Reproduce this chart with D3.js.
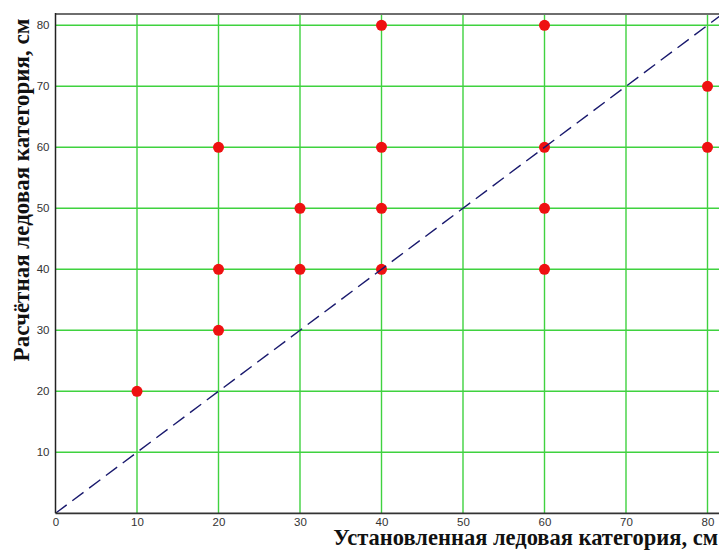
<!DOCTYPE html>
<html><head><meta charset="utf-8">
<script src="https://cdn.jsdelivr.net/npm/d3@7"></script>
<style>
html,body{margin:0;padding:0;background:#fff;overflow:hidden;}
</style></head>
<body>
<svg id="chart" width="719" height="550"></svg>
<script>
const xTicks = [0,10,20,30,40,50,60,70,80];
const yTicks = [10,20,30,40,50,60,70,80];
const xValues = [10,20,20,20,30,30,40,40,40,40,60,60,60,60,80,80];
const yValues = [20,30,40,60,40,50,40,50,60,80,40,50,60,80,60,70];
const lineX = [0,82];
const lineY = [0,82];
const xTitle = "Установленная ледовая категория, см";
const yTitle = "Расчётная ледовая категория, см";

const svg = d3.select("#chart");
const x = d3.scaleLinear().domain([0,82]).range([55.5, 55.5+82*8.15]);
const y = d3.scaleLinear().domain([0,81.85]).range([513.3, 513.3-81.85*6.1]);
const x0 = x(0), x1 = 730, y0 = y(0), y1 = y(81.85);

svg.append("defs").append("clipPath").attr("id","clip")
  .append("rect").attr("x",x0).attr("y",y1).attr("width",x1-x0).attr("height",y0-y1);

// grid
const grid = svg.append("g").attr("stroke","#3fd23f").attr("stroke-width",1.4);
grid.selectAll("line.v").data(xTicks.filter(d=>d>0)).join("line")
  .attr("x1",d=>x(d)).attr("x2",d=>x(d)).attr("y1",y0).attr("y2",y1);
grid.selectAll("line.h").data(yTicks).join("line")
  .attr("y1",d=>y(d)).attr("y2",d=>y(d)).attr("x1",x0).attr("x2",x1);

// points
const pts = xValues.map((v,i)=>({x:v,y:yValues[i]}));
svg.append("g").selectAll("circle").data(pts).join("circle")
  .attr("cx",d=>x(d.x)).attr("cy",d=>y(d.y)).attr("r",5.5).attr("fill","#ee1111");

// dashed line
svg.append("g").attr("clip-path","url(#clip)").append("line")
  .attr("x1",x(lineX[0])).attr("y1",y(lineY[0])).attr("x2",x(lineX[1])).attr("y2",y(lineY[1]))
  .attr("stroke","#1a1a6e").attr("stroke-width",1.4).attr("stroke-dasharray","14,7");

// borders
svg.append("line").attr("x1",x0).attr("x2",x1).attr("y1",y1).attr("y2",y1)
  .attr("stroke","#6e6e6e").attr("stroke-width",2.2);
svg.append("line").attr("x1",x0).attr("x2",x0).attr("y1",y1-1).attr("y2",y0)
  .attr("stroke","#222").attr("stroke-width",1.5);
svg.append("line").attr("x1",x0).attr("x2",x1).attr("y1",y0).attr("y2",y0)
  .attr("stroke","#333").attr("stroke-width",1.8);

// axes tick labels
const xAxis = d3.axisBottom(x).tickValues(xTicks).tickSize(0).tickPadding(5).tickFormat(d3.format("d"));
const gx = svg.append("g").attr("transform",`translate(0,${y0})`).call(xAxis);
gx.select(".domain").remove();
gx.selectAll("text").attr("font-family","Liberation Sans, Arial, sans-serif").attr("font-size",11.5).attr("fill","#333");

const yAxis = d3.axisLeft(y).tickValues(yTicks).tickSize(0).tickPadding(6).tickFormat(d3.format("d"));
const gy = svg.append("g").attr("transform",`translate(${x0},0)`).call(yAxis);
gy.select(".domain").remove();
gy.selectAll("text").attr("font-family","Liberation Sans, Arial, sans-serif").attr("font-size",11.5).attr("fill","#333");

// titles
svg.append("text").attr("x",718).attr("y",545).attr("text-anchor","end")
  .attr("font-family","Liberation Serif, Times New Roman, serif").attr("font-weight","bold")
  .attr("font-size",22.5).attr("fill","#111").text(xTitle);
svg.append("text").attr("transform","translate(29,190) rotate(-90)").attr("text-anchor","middle")
  .attr("font-family","Liberation Serif, Times New Roman, serif").attr("font-weight","bold")
  .attr("font-size",23).attr("fill","#111").text(yTitle);
</script>
</body></html>
